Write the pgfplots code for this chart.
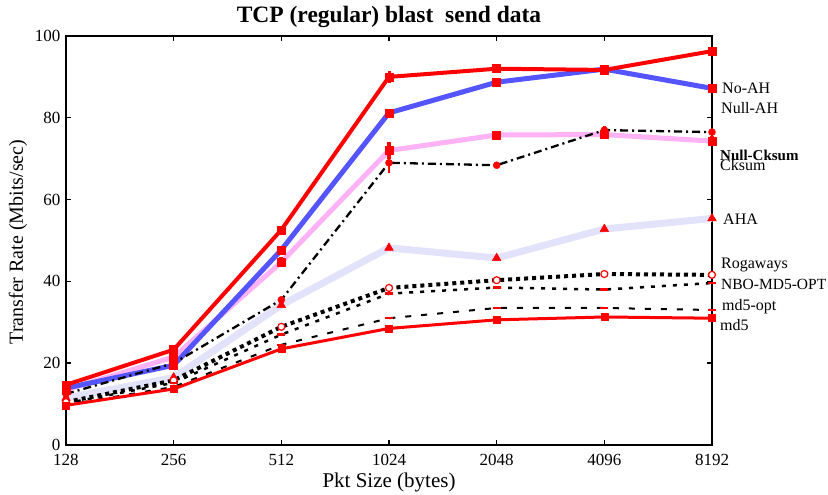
\documentclass[border=0pt]{standalone}
\usepackage{pgfplots}
\pgfplotsset{compat=1.18}
\usepackage{fontspec}
\setmainfont{Liberation Serif}
\definecolor{gred}{RGB}{255,0,0}
\definecolor{gblue}{RGB}{85,85,255}
\definecolor{gpink}{RGB}{255,178,245}
\definecolor{glav}{RGB}{226,226,250}
\begin{document}
\begin{tikzpicture}[x=1pt,y=1pt]
\path[use as bounding box] (-66,-50) rectangle (762,445);
\begin{axis}[
  at={(0,0)}, anchor=south west,
  scale only axis, width=646pt, height=409pt,
  xmin=0, xmax=6, ymin=0, ymax=100,
  xtick={0,1,2,3,4,5,6},
  xticklabels={128,256,512,1024,2048,4096,8192},
  ytick={0,20,40,60,80,100},
  tick align=inside, major tick length=5pt,
  tick style={black, line width=1.4pt},
  axis line style={line width=2pt},
  /pgf/number format/assume math mode=true,
  ticklabel style={font=\fontsize{17}{20}\selectfont},
  xticklabel style={yshift=-6pt},
  yticklabel style={xshift=-2pt},
  clip=false,
  every axis plot/.append style={line join=round},
]
% AHA
\addplot[glav, line width=7pt, mark=triangle*, mark size=5pt, mark options={gred, fill=gred, solid, line width=0.5pt}]
 coordinates {(0,11.5) (1,16.5) (2,34.2) (3,48.2) (4,45.7) (5,52.8) (6,55.4)};
% Null-Cksum
\addplot[gpink, line width=5pt, mark=square*, mark size=4pt, mark options={gred, fill=gred, line width=0.5pt},
  error bars/.cd, y dir=both, y explicit, error mark=none, error bar style={gred, line width=4pt}]
 table[x=x, y=y, y error=e] {
 x y e
 0 13.5 1.0
 1 21.5 1.0
 2 44.7 1.2
 3 72.0 2.0
 4 75.8 0.5
 5 75.9 0.8
 6 74.3 1.2
 };
% Null-AH
\addplot[gblue, line width=5pt, mark=square*, mark size=4pt, mark options={gred, fill=gred, line width=0.5pt}]
 coordinates {(0,13.9) (1,19.5) (2,47.7) (3,81.2) (4,88.7) (5,91.9) (6,87.2)};
% No-AH
\addplot[gred, line width=4pt, mark=square*, mark size=4pt, mark options={gred, fill=gred, line width=0.5pt},
  error bars/.cd, y dir=both, y explicit, error mark=none, error bar style={gred, line width=3pt}]
 table[x=x, y=y, y error=e] {
 x y e
 0 14.7 1.0
 1 23.3 0.5
 2 52.6 0.5
 3 90.0 1.5
 4 92.0 0.3
 5 91.7 0.3
 6 96.3 0.5
 };
% Cksum
\addplot[black, line width=2.3pt, dash pattern=on 8pt off 4pt on 2pt off 4pt, mark=*, mark size=3.5pt, mark options={gred, fill=gred, solid, line width=0.5pt},
  error bars/.cd, y dir=both, y explicit, error mark=none, error bar style={gred, solid, line width=2.5pt}]
 table[x=x, y=y, y error=e] {
 x y e
 0 12.5 0.5
 1 20.0 0.5
 2 35.5 0.5
 3 69.0 2.5
 4 68.4 0.5
 5 77.0 1.0
 6 76.5 0.5
 };
% Rogaways
\addplot[black, line width=4pt, dash pattern=on 4pt off 4pt, mark=*, mark size=3.5pt, mark options={gred, fill=white, solid, line width=1.2pt}]
 coordinates {(0,10.5) (1,15.8) (2,28.9) (3,38.4) (4,40.3) (5,41.8) (6,41.6)};
% NBO-MD5-OPT
\addplot[black, line width=2.5pt, dash pattern=on 4pt off 7pt, mark=-, mark size=4pt, mark options={gred, solid, line width=2.5pt}]
 coordinates {(0,10.2) (1,15.2) (2,27.0) (3,37.0) (4,38.5) (5,38.0) (6,39.6)};
% md5-opt
\addplot[black, line width=2pt, dash pattern=on 6pt off 10pt, mark=-, mark size=4pt, mark options={gred, solid, line width=2.5pt}]
 coordinates {(0,9.8) (1,14.2) (2,24.5) (3,31.0) (4,33.5) (5,33.5) (6,33.0)};
% md5
\addplot[gred, line width=3pt, mark=square*, mark size=3.5pt, mark options={gred, fill=gred, line width=0.5pt}]
 coordinates {(0,9.7) (1,13.7) (2,23.5) (3,28.5) (4,30.6) (5,31.3) (6,31.0)};
\end{axis}
% titles and labels
\node[font=\bfseries\fontsize{23.5}{26}\selectfont] at (323,428) {TCP (regular) blast\ \ send data};
\node[font=\fontsize{21}{24}\selectfont] at (323,-37) {Pkt Size (bytes)};
\node[font=\fontsize{20}{24}\selectfont, rotate=90] at (-48,203) {Transfer Rate (Mbits/sec)};
% series labels
\begin{scope}[every node/.style={anchor=west, inner sep=0pt, font=\fontsize{16}{18}\selectfont}]
\node at (656,357) {No-AH};
\node at (655,337) {Null-AH};
\node[font=\bfseries\fontsize{15}{18}\selectfont] at (654,290) {Null-Cksum};
\node at (654,280) {Cksum};
\node at (657,226) {AHA};
\node at (655,180) {Rogaways};
\node[font=\fontsize{15.5}{18}\selectfont] at (655,161) {NBO-MD5-OPT};
\node at (656,138) {md5-opt};
\node at (654,120) {md5};
\end{scope}
\end{tikzpicture}
\end{document}
